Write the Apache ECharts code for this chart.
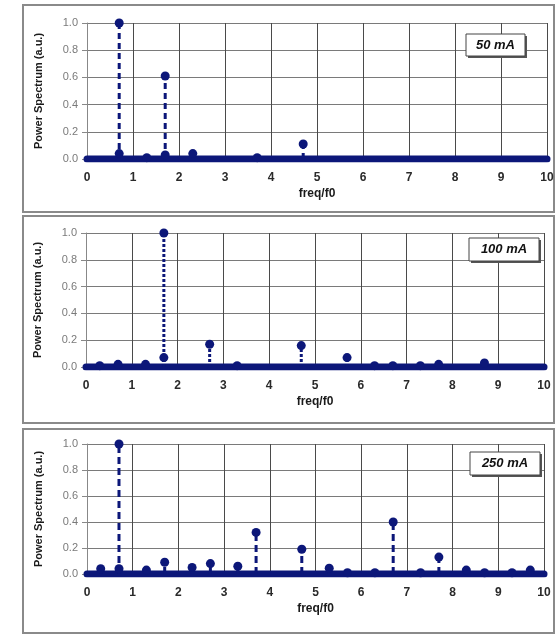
<!DOCTYPE html>
<html>
<head>
<meta charset="utf-8">
<script src="https://cdn.jsdelivr.net/npm/echarts@6/dist/echarts.min.js"></script>
<style>
  html, body { margin: 0; padding: 0; background: #ffffff; }
  #chart { width: 560px; height: 636px; }
</style>
</head>
<body>
<div id="chart"></div>
<script>
// Spectral lines (normalised power vs. frequency in units of f0) for three drive currents
const xTicks = [0, 1, 2, 3, 4, 5, 6, 7, 8, 9, 10];
const yTicks = [0.0, 0.2, 0.4, 0.6, 0.8, 1.0];

const labels = ['50 mA', '100 mA', '250 mA'];

const freq50  = [0.7, 0.7, 1.3, 1.7, 1.7, 2.3, 3.7, 4.7];
const power50 = [1.0, 0.04, 0.01, 0.61, 0.03, 0.04, 0.01, 0.11];

const freq100  = [0.3, 0.7, 1.3, 1.7, 1.7, 2.7, 3.3, 4.7, 5.7, 6.3, 6.7, 7.3, 7.7, 8.7];
const power100 = [0.01, 0.02, 0.02, 1.0, 0.07, 0.17, 0.01, 0.16, 0.07, 0.01, 0.01, 0.01, 0.02, 0.03];

const freq250  = [0.3, 0.7, 0.7, 1.3, 1.7, 2.3, 2.7, 3.3, 3.7, 4.7, 5.3, 5.7, 6.3, 6.7, 7.3, 7.7, 8.3, 8.7, 9.3, 9.7];
const power250 = [0.04, 1.0, 0.04, 0.03, 0.09, 0.05, 0.08, 0.06, 0.32, 0.19, 0.045, 0.01, 0.01, 0.40, 0.01, 0.13, 0.03, 0.01, 0.01, 0.03];

const NAVY = '#0c1779';
const FONT = 'Liberation Sans, Arial, sans-serif';

const panels = [
  { freq: freq50,  power: power50,  grid: { left: 87, top: 23,  width: 460, height: 136 }, frame: [23, 5, 531, 207],   box: [466, 34, 59, 22], dash: [6, 4] },
  { freq: freq100, power: power100, grid: { left: 86, top: 233, width: 458, height: 134 }, frame: [23, 216, 531, 207], box: [469, 238, 70, 23], dash: [3, 2] },
  { freq: freq250, power: power250, grid: { left: 87, top: 444, width: 457, height: 130 }, frame: [23, 429, 531, 204], box: [470, 452, 70, 23], dash: [7, 4] }
];

const chart = echarts.init(document.getElementById('chart'), null, { renderer: 'canvas' });

const grids = [], xAxes = [], yAxes = [], series = [], graphics = [];

panels.forEach((p, i) => {
  // panel frame
  graphics.push({
    type: 'rect', z: -10, silent: true,
    shape: { x: p.frame[0], y: p.frame[1], width: p.frame[2], height: p.frame[3] },
    style: { fill: '#ffffff', stroke: '#8a8a8a', lineWidth: 2 }
  });

  grids.push(Object.assign({ containLabel: false }, p.grid));

  xAxes.push({
    gridIndex: i, type: 'value', min: xTicks[0], max: xTicks[xTicks.length - 1], interval: 1,
    name: 'freq/f0', nameLocation: 'middle', nameGap: 29,
    nameTextStyle: { fontFamily: FONT, fontSize: 12, fontWeight: 'bold', color: '#1a1a1a' },
    axisLine: { show: true, lineStyle: { color: '#777', width: 1 } },
    axisTick: { show: false },
    axisLabel: { fontFamily: FONT, fontSize: 12, fontWeight: 'bold', color: '#2a2a2a', margin: 13 },
    splitLine: { show: true, lineStyle: { color: '#4a4a4a', width: 1 } }
  });

  yAxes.push({
    gridIndex: i, type: 'value', min: yTicks[0], max: yTicks[yTicks.length - 1], interval: 0.2,
    name: 'Power Spectrum (a.u.)', nameLocation: 'middle', nameGap: 43, nameRotate: 90,
    nameTextStyle: { fontFamily: FONT, fontSize: 11, fontWeight: 'bold', color: '#1a1a1a' },
    axisLine: { show: true, lineStyle: { color: '#888', width: 1 } },
    axisTick: { show: true, length: 5, lineStyle: { color: '#888' } },
    axisLabel: { fontFamily: FONT, fontSize: 11, color: '#7a7a7a', margin: 9,
                 formatter: v => v.toFixed(1) },
    splitLine: { show: true, lineStyle: { color: '#7a7a7a', width: 1 } }
  });

  const pts = p.freq.map((f, k) => [f, p.power[k]]);

  // thick zero line of the sampled spectrum
  series.push({
    type: 'line', xAxisIndex: i, yAxisIndex: i, symbol: 'none', silent: true, z: 3,
    data: [[xTicks[0], 0], [xTicks[xTicks.length - 1], 0]],
    lineStyle: { color: NAVY, width: 7, cap: 'round' }
  });

  // dashed stems from zero up to each line
  series.push({
    type: 'custom', xAxisIndex: i, yAxisIndex: i, silent: true, z: 4,
    data: pts,
    renderItem: (params, api) => {
      const top = api.coord([api.value(0), api.value(1)]);
      const bot = api.coord([api.value(0), 0]);
      return {
        type: 'line',
        shape: { x1: bot[0], y1: bot[1], x2: top[0], y2: top[1] },
        style: { stroke: NAVY, lineWidth: 3, lineDash: p.dash, fill: null }
      };
    }
  });

  // line markers
  series.push({
    type: 'scatter', xAxisIndex: i, yAxisIndex: i, z: 5,
    data: pts, symbol: 'circle', symbolSize: 9,
    itemStyle: { color: NAVY, opacity: 1 }
  });

  // current label box with drop shadow
  const b = p.box;
  graphics.push({
    type: 'rect', z: 20, silent: true,
    shape: { x: b[0] + 2, y: b[1] + 2, width: b[2], height: b[3] },
    style: { fill: '#555', stroke: null }
  });
  graphics.push({
    type: 'rect', z: 21, silent: true,
    shape: { x: b[0], y: b[1], width: b[2], height: b[3] },
    style: { fill: '#ffffff', stroke: '#444', lineWidth: 1 }
  });
  graphics.push({
    type: 'text', z: 22, silent: true,
    x: b[0] + b[2] / 2, y: b[1] + b[3] / 2,
    style: { text: labels[i], fill: '#111', font: 'italic bold 13px ' + FONT,
             align: 'center', verticalAlign: 'middle' }
  });
});

chart.setOption({
  animation: false,
  backgroundColor: '#ffffff',
  grid: grids,
  xAxis: xAxes,
  yAxis: yAxes,
  series: series,
  graphic: graphics
});
</script>
</body>
</html>
